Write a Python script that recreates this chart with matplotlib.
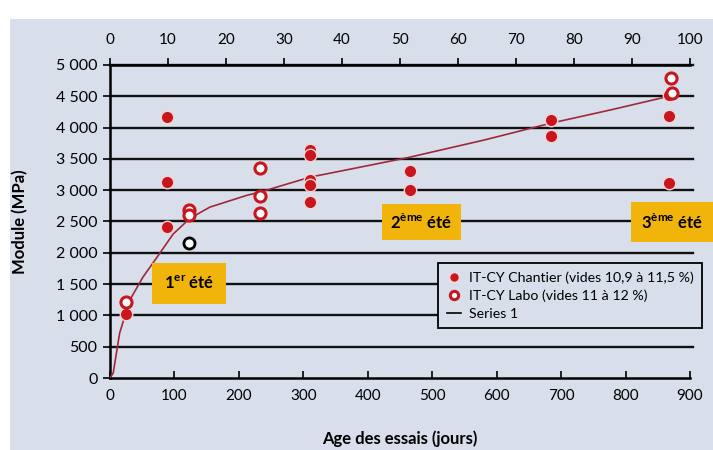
import numpy as np
import matplotlib
matplotlib.use("Agg")
import matplotlib.pyplot as plt
from matplotlib.patches import Rectangle
from matplotlib.ticker import FuncFormatter

plt.rcParams['font.family'] = ['Lato', 'DejaVu Sans']
plt.rcParams['mathtext.fontset'] = 'custom'
plt.rcParams['mathtext.rm'] = 'Lato:bold'

# --- données ---
chantier_jours = [88, 88, 88, 311, 311, 311, 311, 311, 466, 466, 684, 684, 867, 867, 867, 25]
chantier_mpa = [4170, 3130, 2420, 3640, 3570, 3160, 3080, 2810, 3300, 3010, 4120, 3860, 4520, 4180, 3120, 1030]

labo_jours = [25, 123, 123, 232, 232, 232, 870, 872]
labo_mpa = [1210, 2690, 2600, 3360, 2900, 2640, 4790, 4560]

labo_noir_jours = [123]
labo_noir_mpa = [2160]

serie1_jours = [0, 5, 15, 31, 51, 73, 98, 124, 155, 213, 233, 311, 360, 462, 580, 684, 780, 867]
serie1_mpa = [0, 80, 720, 1250, 1610, 1930, 2300, 2550, 2730, 2920, 2970, 3210, 3310, 3520, 3800, 4070, 4290, 4500]

y_ticks = [0, 500, 1000, 1500, 2000, 2500, 3000, 3500, 4000, 4500, 5000]
x_ticks = [0, 100, 200, 300, 400, 500, 600, 700, 800, 900]
top_ticks = [0, 10, 20, 30, 40, 50, 60, 70, 80, 90, 100]

ete_labels = ["1$^{\\mathrm{er}}$ été", "2$^{\\mathrm{ème}}$ été", "3$^{\\mathrm{ème}}$ été"]
ete_pos = [(123, 1510), (483, 2490), (872, 2490)]
ete_pad = [0.7, 0.5, 0.6]

bg = '#d8dfea'
rouge = '#c8161e'
jaune = '#f0b40a'

fig = plt.figure(figsize=(7.13, 4.5), dpi=100)
fig.patch.set_facecolor('white')
fig.patches.append(Rectangle((10 / 713, 0), 1, 1 - 19 / 450, transform=fig.transFigure,
                             facecolor=bg, edgecolor='none', zorder=-10))

ax = fig.add_axes([110 / 713, 1 - 378 / 450, 580 / 713, 313 / 450])
ax.set_facecolor('none')
ax.set_xlim(0, 900)
ax.set_ylim(0, 5000)

# grille horizontale noire, un peu plus longue que l'axe
for v in y_ticks[1:]:
    ax.plot([0, 904], [v, v], color='#111111', lw=1.7, clip_on=False, zorder=1)

ax.plot(serie1_jours, serie1_mpa, color='#a02838', lw=1.2, zorder=3, label='Series 1')
ax.plot(chantier_jours, chantier_mpa, 'o', ms=9, color=rouge, mec='#f3d6d6', mew=1.0,
        zorder=4, label='IT-CY Chantier (vides 10,9 à 11,5 %)', clip_on=False)
ax.plot(labo_jours, labo_mpa, 'o', ms=8, mfc='white', mec=rouge, mew=2.2,
        zorder=5, label='IT-CY Labo (vides 11 à 12 %)', clip_on=False)
ax.plot(labo_noir_jours, labo_noir_mpa, 'o', ms=8, mfc='white', mec='black', mew=2.0, zorder=5)

ax.spines['right'].set_visible(False)
for s in ['left', 'bottom', 'top']:
    ax.spines[s].set_linewidth(1.8)

ax.set_yticks(y_ticks)
ax.yaxis.set_major_formatter(FuncFormatter(lambda v, p: f"{int(v):,}".replace(",", " ")))
ax.set_xticks(x_ticks)
ax.tick_params(axis='y', direction='out', length=5, width=1.2, labelsize=11.5, pad=4)
ax.tick_params(axis='x', direction='in', length=5, width=1.2, labelsize=11, pad=8)

ax.set_xlabel("Age des essais (jours)", fontsize=12, fontweight='bold', labelpad=20)
ax.set_ylabel("Module (MPa)", fontsize=12, fontweight='bold', labelpad=20)

ax2 = ax.twiny()
ax2.set_xlim(0, 100)
ax2.set_xticks(top_ticks)
ax2.tick_params(axis='x', direction='out', length=5, width=1.2, labelsize=11, pad=8)
for s in ['right', 'left', 'bottom', 'top']:
    ax2.spines[s].set_visible(False)

for lab, (x, y), pd in zip(ete_labels, ete_pos, ete_pad):
    ax.text(x, y, lab, fontsize=12, fontweight='bold', ha='center', va='center', zorder=6,
            bbox=dict(boxstyle=f'square,pad={pd}', fc=jaune, ec='none'), clip_on=False)

h, l = ax.get_legend_handles_labels()
order = [1, 2, 0]
leg = fig.legend([h[i] for i in order], [l[i] for i in order], loc='upper left',
                 bbox_to_anchor=(438 / 713, 1 - 263 / 450), fontsize=10.2, frameon=True,
                 fancybox=False, framealpha=1, handlelength=1.0, handletextpad=0.6,
                 borderpad=0.6, labelspacing=0.4, borderaxespad=0)
leg.get_frame().set_edgecolor('black')
leg.get_frame().set_linewidth(1.3)
leg.get_frame().set_facecolor(bg)
leg.legend_handles[0].set_markersize(7)
leg.legend_handles[1].set_markersize(6)
leg.legend_handles[2].set_color('black')

fig.savefig("out.png", dpi=100)
